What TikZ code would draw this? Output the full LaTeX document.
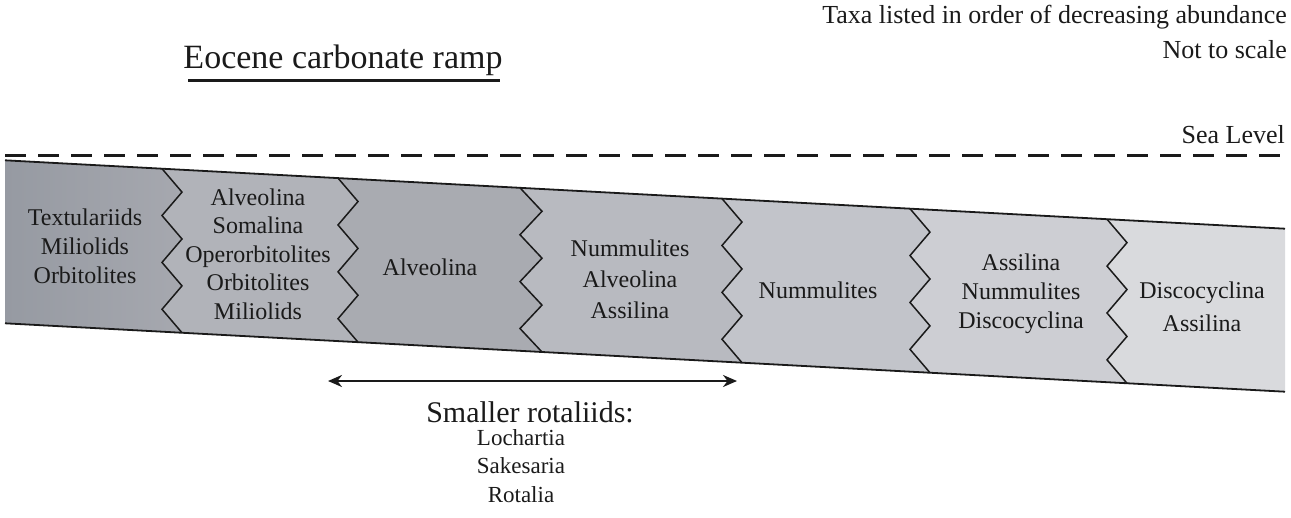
\documentclass[tikz,border=0pt]{standalone}
\usepackage{fontspec}
\setmainfont{Liberation Serif}
\usetikzlibrary{arrows.meta}
\definecolor{zA}{HTML}{969AA2}
\definecolor{zB}{HTML}{A6A8AF}
\definecolor{zTwo}{HTML}{B1B3B9}
\definecolor{zThree}{HTML}{A9ABB1}
\definecolor{zFour}{HTML}{B8BAC0}
\definecolor{zFive}{HTML}{C2C4CA}
\definecolor{zSix}{HTML}{CDCED3}
\definecolor{zSeven}{HTML}{D9DADD}
\definecolor{ink}{HTML}{1A1A1A}
\tikzset{
  zone1/.style={left color=zA,right color=zB},
  zone2/.style={fill=zTwo},
  zone3/.style={fill=zThree},
  zone4/.style={fill=zFour},
  zone5/.style={fill=zFive},
  zone6/.style={fill=zSix},
  taxon/.style={align=center,font=\fontsize{24}{29}\selectfont,text=ink,inner sep=0pt},
  note/.style={font=\fontsize{26}{30}\selectfont,text=ink,inner sep=0pt,anchor=east},
  edge/.style={draw=ink,line width=1.8pt},
  zig/.style={draw=ink,line width=1.5pt,line join=miter},
}
\begin{document}
\begin{tikzpicture}[x=1pt,y=-1pt]
\useasboundingbox (0,0) rectangle (1291,517);
% band base
\fill[zSeven] (5,160.3) -- (1285,228.7) -- (1285,391.7) -- (5,323.3) -- cycle;
% zones, filled from right to left
\foreach \a/\w/\c in {1107/20/zone6, 910/20/zone5, 722/20/zone4, 520/22/zone3, 338/20/zone2, 162/20/zone1} {
  \pgfmathsetmacro\yt{160+0.0535*\a}
  \pgfmathsetmacro\yb{323+0.0535*(\a+\w)}
  \path[\c] (5,160.3) -- (\a,\yt) \foreach \k in {1,...,7}{ -- ({\a+mod(\k,2)*\w},{\yt+\k*(\yb-\yt)/7}) } -- (5,323.3) -- cycle;
}
% zigzag boundaries
\foreach \a/\w in {1107/20, 910/20, 722/20, 520/22, 338/20, 162/20} {
  \pgfmathsetmacro\yt{160+0.0535*\a}
  \pgfmathsetmacro\yb{323+0.0535*(\a+\w)}
  \draw[zig] (\a,\yt) \foreach \k in {1,...,7}{ -- ({\a+mod(\k,2)*\w},{\yt+\k*(\yb-\yt)/7}) };
}
% band edges
\coordinate (tl) at (5,160.3);
\coordinate (tr) at (1285,228.7);
\coordinate (bl) at (5,323.3);
\coordinate (br) at (1285,391.7);
\draw[edge] (tl) -- (tr);
\draw[edge] (bl) -- (br);
% sea level
\coordinate (sl1) at (5,155);
\coordinate (sl2) at (1291,155);
\draw[ink,line width=3pt,dash pattern=on 21pt off 12pt] (sl1) -- (sl2);
% titles
\node[font=\fontsize{34}{38}\selectfont,text=ink,inner sep=0pt] (title) at (343,60) {Eocene carbonate ramp};
\coordinate (ul1) at (188,80);
\coordinate (ul2) at (500,80);
\draw[ink,line width=3pt] (ul1) -- (ul2);
\node[note] (taxa) at (1287,17) {Taxa listed in order of decreasing abundance};
\node[note] (scale) at (1287,50) {Not to scale};
\node[note] (sea) at (1285,135) {Sea Level};
% zone texts
\node[taxon] (t1) at (85,246) {Textulariids\\Miliolids\\Orbitolites};
\node[taxon,font=\fontsize{24}{28.5}\selectfont] (t2) at (258,254) {Alveolina\\Somalina\\Operorbitolites\\Orbitolites\\Miliolids};
\node[taxon] (t3) at (430,267) {Alveolina};
\node[taxon,font=\fontsize{24}{31}\selectfont] (t4) at (630,279) {Nummulites\\Alveolina\\Assilina};
\node[taxon] (t5) at (818,290) {Nummulites};
\node[taxon,font=\fontsize{24}{29}\selectfont] (t6) at (1021,294) {Assilina\\Nummulites\\Discocyclina};
\node[taxon,font=\fontsize{24}{33}\selectfont] (t7) at (1202,307) {Discocyclina\\Assilina};
% smaller rotaliids
\coordinate (ar1) at (328,381);
\coordinate (ar2) at (737,381);
\draw[ink,line width=2.5pt,{Stealth[length=14pt,width=12pt]}-{Stealth[length=14pt,width=12pt]}] (ar1) -- (ar2);
\node[font=\fontsize{30}{34}\selectfont,text=ink,inner sep=0pt] (sr) at (530,412) {Smaller rotaliids:};
\node[taxon,font=\fontsize{23}{28.5}\selectfont] (sr2) at (521,466) {Lochartia\\Sakesaria\\Rotalia};
\end{tikzpicture}
\end{document}
